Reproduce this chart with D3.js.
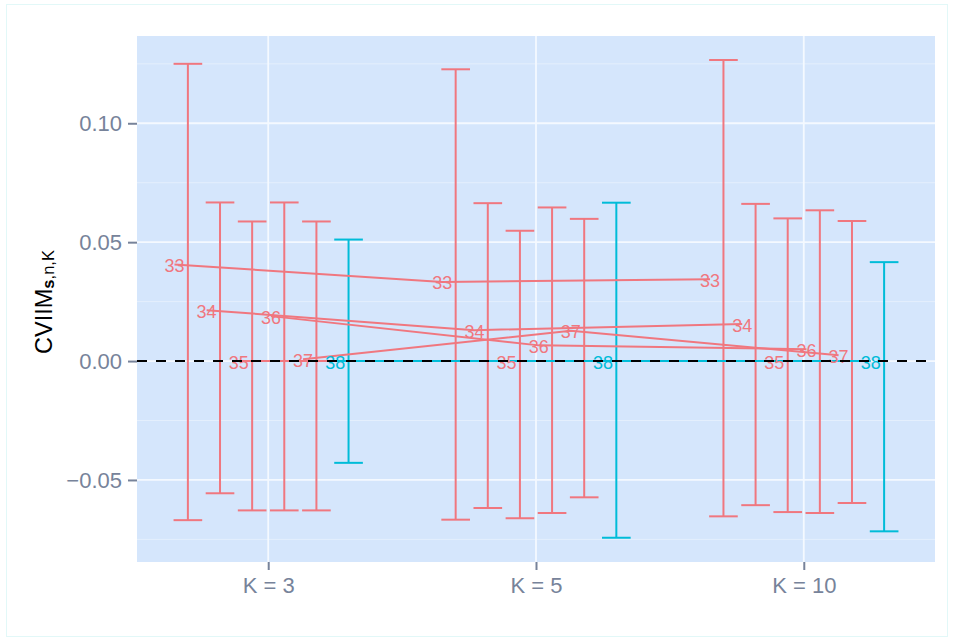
<!DOCTYPE html>
<html>
<head>
<meta charset="utf-8">
<script src="https://cdn.jsdelivr.net/npm/d3@7"></script>
<style>
  body { margin: 0; background: #ffffff; }
  svg { display: block; font-family: "Liberation Sans", Arial, Helvetica, sans-serif; }
</style>
</head>
<body>
<svg id="chart" width="954" height="642"></svg>
<script>
// Categories on the x axis and the dodged groups within each category
const kLabels = ["K = 3", "K = 5", "K = 10"];
const groups = ["33", "34", "35", "36", "37", "38"];

// Rows follow `groups`, columns follow `kLabels`
const estimate = [
  [0.0406, 0.0333, 0.0344],
  [0.0214, 0.0130, 0.0156],
  [0.0000, 0.0000, 0.0000],
  [0.0189, 0.0066, 0.0050],
  [0.0008, 0.0127, 0.0024],
  [0.0000, 0.0000, 0.0000]
];
const lower = [
  [-0.0669, -0.0667, -0.0653],
  [-0.0556, -0.0618, -0.0606],
  [-0.0628, -0.0661, -0.0635],
  [-0.0628, -0.0639, -0.0639],
  [-0.0628, -0.0573, -0.0597],
  [-0.0428, -0.0743, -0.0716]
];
const upper = [
  [0.1250, 0.1227, 0.1266],
  [0.0667, 0.0664, 0.0661],
  [0.0587, 0.0548, 0.0600],
  [0.0667, 0.0646, 0.0634],
  [0.0587, 0.0598, 0.0589],
  [0.0511, 0.0666, 0.0416]
];

const yTicks = [-0.05, 0.00, 0.05, 0.10];
const yMinorTicks = [-0.075, -0.025, 0.025, 0.075, 0.125];
const referenceLine = 0;
const highlightGroup = "38";

// ---- layout ----
const W = 954, H = 642;
const panel = { left: 137, right: 935, top: 36, bottom: 562 };
const RED = "#F0777F", CYAN = "#00BCD8";
const AXIS_GREY = "#77839a";

const svg = d3.select("#chart");

svg.append("rect")
  .attr("x", 6.5).attr("y", 4.5)
  .attr("width", W - 13).attr("height", H - 10)
  .attr("fill", "#ffffff")
  .attr("stroke", "#e2f8f8").attr("stroke-width", 1);

const x = d3.scalePoint().domain(kLabels).range([panel.left, panel.right]).padding(0.49);
const step = x.step();
const dodge = d3.scaleBand().domain(groups).range([-0.36 * step, 0.36 * step]);
const dodgeX = (k, g) => x(k) + dodge(g) + dodge.bandwidth() / 2;
const capHalf = 0.0535 * step;
const labelNudge = -0.05 * step;

const y = d3.scaleLinear().domain([-0.0845, 0.1367]).range([panel.bottom, panel.top]);

const color = d3.scaleOrdinal().domain(groups).range(groups.map(g => g === highlightGroup ? CYAN : RED));

// panel background
svg.append("rect")
  .attr("x", panel.left).attr("y", panel.top)
  .attr("width", panel.right - panel.left).attr("height", panel.bottom - panel.top)
  .attr("fill", "#d5e6fc");

const grid = svg.append("g");
grid.selectAll("line.minor").data(yMinorTicks).join("line")
  .attr("class", "minor")
  .attr("x1", panel.left).attr("x2", panel.right)
  .attr("y1", d => y(d)).attr("y2", d => y(d))
  .attr("stroke", "#e4effd").attr("stroke-width", 1);
grid.selectAll("line.major").data(yTicks).join("line")
  .attr("class", "major")
  .attr("x1", panel.left).attr("x2", panel.right)
  .attr("y1", d => y(d)).attr("y2", d => y(d))
  .attr("stroke", "#f4f9ff").attr("stroke-width", 1.8);
grid.selectAll("line.vmajor").data(kLabels).join("line")
  .attr("class", "vmajor")
  .attr("x1", d => x(d)).attr("x2", d => x(d))
  .attr("y1", panel.top).attr("y2", panel.bottom)
  .attr("stroke", "#f4f9ff").attr("stroke-width", 1.8);

// flattened records
const records = [];
groups.forEach((g, gi) => {
  kLabels.forEach((k, ki) => {
    records.push({ g, k, est: estimate[gi][ki], lo: lower[gi][ki], hi: upper[gi][ki] });
  });
});

// error bars
const bars = svg.append("g").attr("fill", "none").attr("stroke-width", 2);
const eb = bars.selectAll("g").data(records).join("g")
  .attr("stroke", d => color(d.g));
eb.append("line")
  .attr("x1", d => dodgeX(d.k, d.g)).attr("x2", d => dodgeX(d.k, d.g))
  .attr("y1", d => y(d.hi)).attr("y2", d => y(d.lo));
eb.append("line")
  .attr("x1", d => dodgeX(d.k, d.g) - capHalf).attr("x2", d => dodgeX(d.k, d.g) + capHalf)
  .attr("y1", d => y(d.hi)).attr("y2", d => y(d.hi));
eb.append("line")
  .attr("x1", d => dodgeX(d.k, d.g) - capHalf).attr("x2", d => dodgeX(d.k, d.g) + capHalf)
  .attr("y1", d => y(d.lo)).attr("y2", d => y(d.lo));

// lines joining each group's estimates across K
const line = d3.line()
  .x(d => dodgeX(d.k, d.g) + labelNudge)
  .y(d => y(d.est));
svg.append("g").selectAll("path").data(groups).join("path")
  .attr("d", g => line(records.filter(r => r.g === g)))
  .attr("fill", "none")
  .attr("stroke", g => color(g))
  .attr("stroke-width", 2);

// group labels at the estimates
svg.append("g").selectAll("text").data(records).join("text")
  .attr("x", d => dodgeX(d.k, d.g) + labelNudge)
  .attr("y", d => y(d.est))
  .attr("dy", "0.42em")
  .attr("text-anchor", "middle")
  .attr("font-size", 18)
  .attr("fill", d => color(d.g))
  .text(d => d.g);

// reference line at zero
svg.append("line")
  .attr("x1", panel.left).attr("x2", panel.right)
  .attr("y1", y(referenceLine)).attr("y2", y(referenceLine))
  .attr("stroke", "#000000").attr("stroke-width", 2)
  .attr("stroke-dasharray", "10 9");

// axes
const yAxis = svg.append("g")
  .attr("transform", `translate(${panel.left},0)`)
  .call(d3.axisLeft(y).tickValues(yTicks).tickFormat(d3.format(".2f")).tickSize(9).tickPadding(6));
const xAxis = svg.append("g")
  .attr("transform", `translate(0,${panel.bottom})`)
  .call(d3.axisBottom(x).tickSize(8).tickPadding(7));
[yAxis, xAxis].forEach(a => {
  a.select(".domain").remove();
  a.selectAll(".tick line").attr("stroke", AXIS_GREY).attr("stroke-width", 2);
  a.selectAll(".tick text").attr("fill", AXIS_GREY).attr("font-size", 22)
    .attr("font-family", "Liberation Sans, Arial, sans-serif");
});

// y axis title: CVIIM with subscript s,n,K
const title = svg.append("text")
  .attr("transform", `translate(51.5,${(panel.top + panel.bottom) / 2 + 3}) rotate(-90)`)
  .attr("text-anchor", "middle")
  .attr("fill", "#000000")
  .attr("font-size", 23.5);
title.append("tspan").text("CVIIM");
title.append("tspan").attr("dy", 2).attr("font-size", 16.5).attr("font-weight", "bold").text("s");
title.append("tspan").attr("font-size", 16.5).text(",n,K");
</script>
</body>
</html>
